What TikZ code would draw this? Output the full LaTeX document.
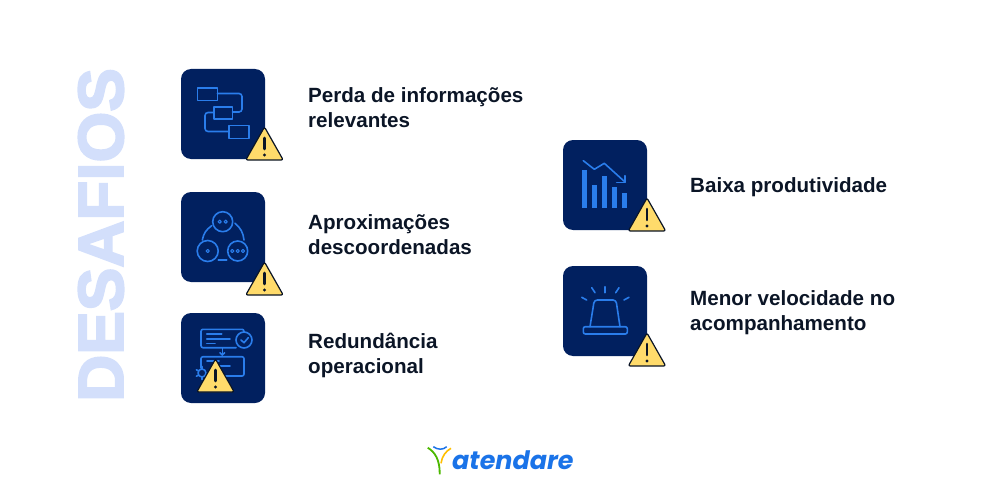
\documentclass[tikz,border=0pt]{standalone}
\usepackage{fontspec}
\setmainfont{Liberation Sans}
\newfontfamily\logofont{Poppins}
\newfontfamily\titlefont[BoldFeatures={FakeBold=3}]{Liberation Sans}
\usepackage{xcolor}
\definecolor{navy}{HTML}{01205F}
\definecolor{iconblue}{HTML}{2A7DEB}
\definecolor{logoblue}{HTML}{1A73E8}
\definecolor{inkdark}{HTML}{0B1526}
\definecolor{titleblue}{HTML}{D3DFFB}
\definecolor{warnyellow}{HTML}{FFDB6B}
\tikzset{
  iconbox/.style = {fill=navy,rounded corners=10pt},
  iconline/.style = {draw=iconblue,line width=1.6pt,line cap=round,line join=round},
  label/.style = {anchor=west,align=left,text=inkdark,inner sep=0,font=\fontsize{20.6}{25}\selectfont\bfseries},
  warnsign/.pic = {
    \draw[fill=warnyellow,draw=inkdark,line width=1.2pt,rounded corners=2pt] (0,-2) -- (18.7,31) -- (-18.7,31) -- cycle;
    \draw[inkdark,line width=2.6pt,line cap=round] (0,9) -- (0,20);
    \fill[inkdark] (0,26) circle (1.7);
  }
}
\begin{document}
\begin{tikzpicture}[x=1pt,y=-1pt]
\useasboundingbox (0,0) rectangle (1000,500);
\foreach \x/\y in {181/69,181/192,181/313,563/140,563/266} { \fill[iconbox] (\x,\y) rectangle ++(84,90); }
% flow chart
\draw[iconline] (197.3,88.3) rectangle (217.3,100.7);
\draw[iconline] (214,107.3) rectangle (232.3,119.3);
\draw[iconline] (229,125.3) rectangle (248.7,138.3);
\draw[iconline,rounded corners=3pt] (217.3,93.5) -- (242,93.5) -- (242,112) -- (232.3,112);
\draw[iconline,rounded corners=3pt] (214,112.5) -- (205,112.5) -- (205,131.5) -- (229,131.5);
% circles
\draw[iconline] (222.7,221.7) circle (10);
\draw[iconline] (207.7,251) circle (10.5);
\draw[iconline] (237.7,251) circle (10);
\foreach \x/\y in {219.7/221.7,225.7/221.7,207.7/251,232.3/251,237.7/251,243/251} { \draw[iconline,line width=1.1pt] (\x,\y) circle (1.6); }
\draw[iconline] (211.7,225.7) to[bend right=22] (202.3,240);
\draw[iconline] (235,223.3) to[bend left=22] (244,240);
\draw[iconline] (218.3,259.7) -- (226.7,259.7);
% process
\draw[iconline,rounded corners=2pt] (236,347.7) -- (201,347.7) -- (201,329.3) -- (244,329.3) -- (244,332);
\draw[iconline] (244,340) circle (8);
\draw[iconline] (241,340) -- (244,342.7) -- (248.3,337.7);
\draw[iconline] (206.7,334) -- (221.7,334);
\draw[iconline] (206.7,338.7) -- (230,338.7);
\draw[iconline] (206.7,343.3) -- (215,343.3);
\draw[iconline] (222.3,348.3) -- (222.3,355);
\draw[iconline] (220,352.8) -- (222.3,355) -- (224.6,352.8);
\draw[iconline,rounded corners=2pt] (201,368) -- (201,356.7) -- (244,356.7) -- (244,376) -- (225,376);
\draw[iconline] (207,361) -- (219,361);
\draw[iconline] (220,366) -- (230,366);
\draw[iconline] (202,373) circle (4);
\foreach \a in {90,150,210,270} { \draw[iconline] (202,373) ++(\a:4) -- ++(\a:2.5); }
% bars
\foreach \x/\y in {582.3/170,592/185,602/176,612/187,622/193.3} { \fill[iconblue] (\x,\y) rectangle (\x+5,208.3); }
\draw[iconline] (583.3,160.7) -- (594.3,169.3) -- (604.3,163.3) -- (625,182);
\draw[iconline] (625,175.7) -- (625,182.3) -- (616.7,182.3);
% siren
\draw[iconline] (581.7,297.3) -- (586.7,300);
\draw[iconline] (591.7,287.7) -- (595,292.7);
\draw[iconline] (605,286.7) -- (605,292.7);
\draw[iconline] (619,287.7) -- (615.7,292.7);
\draw[iconline] (629,297.3) -- (624,300);
\draw[iconline,rounded corners=3pt] (590,326.7) -- (594.3,300) -- (616,300) -- (620,326.7);
\draw[iconline,rounded corners=2pt] (583.3,326.7) rectangle (627.3,334);
\foreach \x/\y in {264.5/129,264.5/264,215.5/361,647/200,647/335} { \pic at (\x,\y) {warnsign}; }
\node[rotate=90,text=titleblue,inner sep=0,font=\fontsize{64}{64}\selectfont\titlefont\bfseries] (title) at (101,235) {\scalebox{1.02}[1]{DESAFIOS}};
\node[label] (perda) at (308,108) {Perda de informações\\relevantes};
\node[label] (aprox) at (308,235) {Aproximações\\descoordenadas};
\node[label] (redund) at (308,355) {Redundância\\operacional};
\node[label] (baixa) at (690,187) {Baixa produtividade};
\node[label] (menor) at (690,313) {Menor velocidade no\\acompanhamento};
% logo
\draw[draw=logoblue,line width=1.5pt] (433.3,446.7) .. controls (438,450) and (443,450) .. (446.7,446.7);
\draw[draw=green!60!black!70!yellow,line width=1.8pt] (427.7,447.7) .. controls (435,452) and (440,460) .. (439.7,474.3);
\draw[draw=orange!50!yellow,line width=1.6pt] (451,448.3) .. controls (446,451) and (442,456) .. (441,463.3);
\node[anchor=base west,inner sep=0,text=logoblue,font=\fontsize{25.4}{26}\selectfont\logofont\bfseries\itshape] (logo) at (452,469) {atendare};
\end{tikzpicture}
\end{document}
